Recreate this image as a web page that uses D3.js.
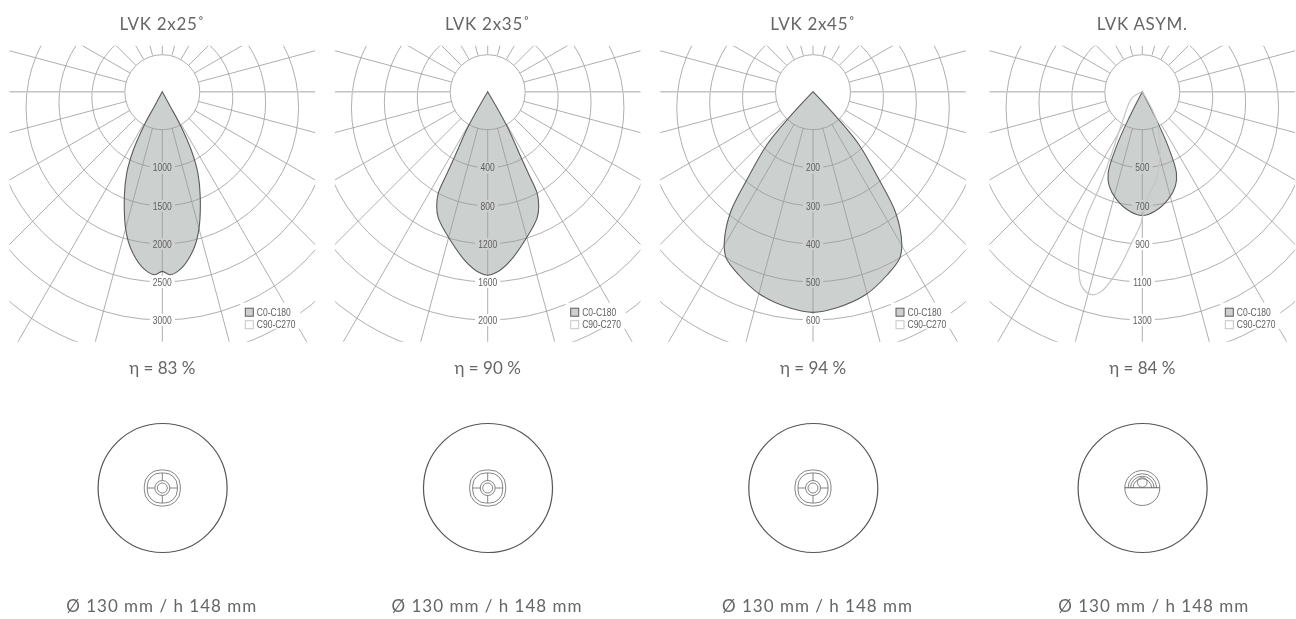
<!DOCTYPE html>
<html><head><meta charset="utf-8">
<script src="https://cdn.jsdelivr.net/npm/d3@7"></script>
<style>
html,body{margin:0;padding:0;background:#fff}
svg{display:block;will-change:transform;transform:translateZ(0)}
.t{font-family:Lato,sans-serif;font-weight:400;fill:#666;font-size:17px;text-anchor:middle}
.n{font-family:"Liberation Sans",sans-serif;fill:#5f5f5f;font-size:10.5px}
</style></head><body>
<svg id="c" width="1296" height="619"></svg>
<script>
const titles = ["LVK 2x25˚","LVK 2x35˚","LVK 2x45˚","LVK ASYM."];
const efficiencies = ["η = 83 %","η = 90 %","η = 94 %","η = 84 %"];
const dimensions = "Ø 130 mm / h 148 mm";
const legendLabels = ["C0-C180","C90-C270"];
const ticks25 = [1000,1500,2000,2500,3000];
const ticks35 = [400,800,1200,1600,2000];
const ticks45 = [200,300,400,500,600];
const ticksAsym = [500,700,900,1100,1300];
// half-outline of C0-C180: angle from nadir (deg), luminous intensity on the panel's axis
const angles25 = [29,28.5,28.4,26.4,23.6,19.9,14.8,11.1,6.2,2.4,0];
const c0_25 = [null,228,497,853,1168,1465,1878,2117,2332,2408,2362];
const angles35 = [29.5,29.2,26.9,26.4,26,24,21.4,14.9,7.5,2.85,0];
const c0_35 = [null,26,368,579,784,919,1025,1190,1397,1502,1530];
const angles45 = [43,42.8,41,36.9,34.3,30.4,27.6,22.2,14.6,6.06,0];
const c0_45 = [null,94,184,289,386,461,493,519,551,572,580];
const anglesAsym = [28,26.8,25.3,22.8,19.3,13.5,6,0];
const c0_Asym = [null,263,417,563,626,682,732,751];
// C90-C270 of the asymmetric optic, signed angle (deg)
const c90Angles = [-58,-35.5,-25.9,-24.1,-24,-22.3,-19.7,-17.3,-14,-11.5,-7.7,-4,-1,0.2,3.3,9.2,15.2,24.6,29];
const c90Values = [166,268,486,663,816,960,1093,1172,1200,1170,1044,896,807,754,649,567,451,298,200];

const panels = [
 {cx:162.3, dim:161.7, ticks:ticks25, a:angles25, v:c0_25},
 {cx:487.7, dim:487, ticks:ticks35, a:angles35, v:c0_35},
 {cx:813,   dim:817.5, ticks:ticks45, a:angles45, v:c0_45},
 {cx:1142.3,dim:1153.7, ticks:ticksAsym, a:anglesAsym, v:c0_Asym, c90:true}
];
const svg = d3.select("#c"), defs = svg.append("defs");
const CY = 91.7, HW = 152.8, TOP = 45.7, BOT = 341.7;
const NARROW = 0.81;
const ringIdx = d3.range(1,8);
const ringBottom = d3.scaleLinear().domain([1,7]).range([38,266.3]);
const ringRadius = d3.scaleLinear().domain([1,7]).range([37.5,235]);
const spokes = d3.range(0,360,15);
const rad = d => d*Math.PI/180;

panels.forEach((p,i)=>{
  const g = svg.append("g").attr("transform",`translate(${p.cx},${CY})`);
  const r = d3.scaleLinear().domain([p.ticks[0],p.ticks[4]]).range([ringBottom(2),ringBottom(6)]);
  defs.append("clipPath").attr("id","clip"+i).append("rect")
    .attr("x",-HW).attr("y",TOP-CY).attr("width",HW*2).attr("height",BOT-TOP);
  const m = defs.append("mask").attr("id","mask"+i).attr("maskUnits","userSpaceOnUse")
    .attr("x",-200).attr("y",-100).attr("width",400).attr("height",400);
  m.append("rect").attr("x",-200).attr("y",-100).attr("width",400).attr("height",400).attr("fill","#fff");
  p.ticks.forEach((t,k)=>{
    const w = String(t).length*4.8+6;
    m.append("rect").attr("x",-w/2).attr("y",ringBottom(k+2)-6).attr("width",w).attr("height",12).attr("fill","#000");
  });
  m.append("rect").attr("x",78).attr("y",211).attr("width",60).attr("height",26).attr("fill","#000");

  // fill of C0-C180
  const pts = p.a.map((a,j)=>({a:a,r:p.v[j]==null?0:r(p.v[j])}));
  const right = pts.map(d=>[rad(180-d.a), d.r]);
  const left = pts.slice(0,-1).reverse().map(d=>[rad(180+d.a), d.r]);
  const outline = right.concat(left);
  const line = d3.lineRadial().angle(d=>d[0]).radius(d=>d[1]).curve(d3.curveCatmullRom.alpha(0.5));
  g.append("path").attr("d",line(outline)+"Z").attr("fill","#ccd0ce").attr("stroke","none");

  // grid
  const gm = g.append("g").attr("mask",`url(#mask${i})`);
  const gc = gm.append("g").attr("clip-path",`url(#clip${i})`);
  gc.selectAll("path.ring").data(ringIdx).join("path").attr("class","ring")
    .attr("d",k=>{
      const R = ringRadius(k), c = ringBottom(k)-R;
      return `M${-R},${c}A${R},${R} 0 1 0 ${R},${c}A${R},${R} 0 1 0 ${-R},${c}`;
    })
    .attr("fill","none").attr("stroke","#9a9a9a").attr("stroke-width",0.8);
  gc.selectAll("line").data(spokes).join("line")
    .attr("x1",d=>37.5*Math.sin(rad(d))).attr("y1",d=>37.5*Math.cos(rad(d)))
    .attr("x2",d=>420*Math.sin(rad(d))).attr("y2",d=>420*Math.cos(rad(d)))
    .attr("stroke",d=>d%180==90?"#c4c4c4":"#9a9a9a")
    .attr("stroke-width",d=>d%180==90?1.5:0.8);

  // outline
  g.append("path").attr("d",line(outline)+"Z").attr("fill","none").attr("stroke","#5c5c5c").attr("stroke-width",1.1);

  if(p.c90){
    const d90 = [[rad(0),0]].concat(c90Angles.map((a,j)=>[rad(180-a),r(c90Values[j])]),[[rad(0),0]]);
    g.append("path").attr("d",line(d90)).attr("fill","none").attr("stroke","#c6c6c6").attr("stroke-width",1.2);
  }

  // labels
  g.selectAll("text.tick").data(p.ticks).join("text").attr("class","n tick")
    .attr("text-anchor","middle")
    .attr("transform",(d,k)=>`translate(0,${ringBottom(k+2)+3.7}) scale(${NARROW},1)`).text(d=>d);

  // legend
  g.append("rect").attr("x",83).attr("y",216.5).attr("width",8).attr("height",8).attr("fill","#ccd0ce").attr("stroke","#5c5c5c");
  g.append("rect").attr("x",83).attr("y",229).attr("width",8).attr("height",8).attr("fill","#fff").attr("stroke","#c6c6c6");
  legendLabels.forEach((l,k)=>g.append("text").attr("class","n")
    .attr("transform",`translate(94.5,${224.3+k*12}) scale(${NARROW},1)`).text(l));

  // titles
  svg.append("text").attr("class","t").attr("x",p.cx).attr("y",30).style("letter-spacing","0.7px").text(titles[i]);
  svg.append("text").attr("class","t").attr("x",p.cx).attr("y",374).text(efficiencies[i]);
  svg.append("text").attr("class","t").attr("x",p.dim).attr("y",612).style("letter-spacing","1px").text(dimensions);

  // luminaire
  const L = svg.append("g").attr("transform",`translate(${p.cx},488)`)
     .attr("fill","none").attr("stroke","#555");
  L.append("circle").attr("cx",0.3).attr("r",64.5).attr("stroke-width",1.2);
  const s = L.append("g").attr("stroke-width",0.8).attr("stroke","#666");
  if(!p.c90){
    s.append("rect").attr("x",-18).attr("y",-18).attr("width",36).attr("height",36).attr("rx",16);
    s.append("rect").attr("x",-15).attr("y",-15).attr("width",30).attr("height",30).attr("rx",13);
    s.append("circle").attr("r",7.5);
    s.append("circle").attr("r",5);
    [0,90,180,270].forEach(a=>s.append("line")
      .attr("x1",7.5*Math.sin(rad(a))).attr("y1",7.5*Math.cos(rad(a)))
      .attr("x2",15*Math.sin(rad(a))).attr("y2",15*Math.cos(rad(a))));
  } else {
    s.append("circle").attr("r",17.5);
    s.append("line").attr("x1",-17.5).attr("x2",17.5).attr("y1",-0.3).attr("y2",-0.3).attr("stroke-width",1.1);
    [14.3,11.8,9.3].forEach(R=>s.append("path").attr("d",`M${-R},0A${R},${R} 0 0 1 ${R},0`));
    s.append("circle").attr("cy",-5.5).attr("r",4.8);
  }
});
</script></body></html>
